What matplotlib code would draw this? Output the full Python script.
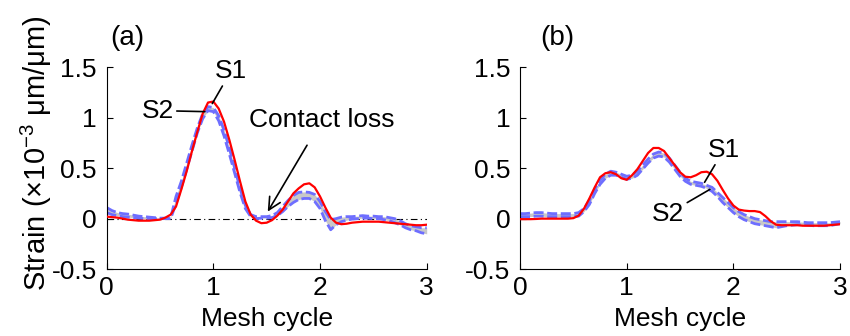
import matplotlib.pyplot as plt
import numpy as np

plt.rcParams['font.family'] = ['Liberation Sans', 'DejaVu Sans']
plt.rcParams['mathtext.fontset'] = 'custom'
plt.rcParams['mathtext.rm'] = 'Liberation Sans'
plt.rcParams['mathtext.it'] = 'Liberation Sans:italic'

# mesh cycle positions (0 to 3, every 0.05)
cycle = np.round(np.arange(0, 3.001, 0.05), 2)

# (a) strain, S1 measured (red) and S2 band (upper / lower)
s1_a = [0.02, 0.015, 0.01, 0.0, -0.01, -0.015, -0.02, -0.02, -0.02, -0.015,
        -0.01, 0.01, 0.04, 0.12, 0.29, 0.47, 0.67, 0.86, 1.04, 1.15,
        1.16, 1.09, 0.96, 0.78, 0.58, 0.37, 0.17, 0.04, -0.02, -0.045,
        -0.04, -0.015, 0.03, 0.09, 0.17, 0.25, 0.30, 0.34, 0.35, 0.31,
        0.22, 0.11, 0.01, -0.04, -0.055, -0.05, -0.04, -0.035, -0.03, -0.03,
        -0.03, -0.03, -0.035, -0.04, -0.045, -0.05, -0.055, -0.06, -0.065, -0.065,
        -0.06]
s2_a_hi = [0.11, 0.08, 0.06, 0.05, 0.045, 0.035, 0.025, 0.02, 0.015, 0.01,
           0.005, 0.005, 0.01, 0.22, 0.37, 0.55, 0.73, 0.90, 1.04, 1.11,
           1.10, 1.02, 0.88, 0.70, 0.50, 0.30, 0.13, 0.04, 0.02, 0.02,
           0.02, 0.03, 0.06, 0.12, 0.18, 0.23, 0.26, 0.265, 0.26, 0.24,
           0.17, 0.07, -0.01, 0.0, 0.015, 0.02, 0.02, 0.025, 0.03, 0.025,
           0.025, 0.02, 0.02, 0.01, 0.0, -0.02, -0.05, -0.07, -0.08, -0.09,
           -0.09]
s2_a_lo = [0.06, 0.04, 0.03, 0.02, 0.015, 0.01, 0.005, 0.0, 0.0, 0.0,
           0.0, 0.0, 0.0, 0.15, 0.31, 0.49, 0.67, 0.85, 0.99, 1.07,
           1.06, 0.97, 0.82, 0.64, 0.45, 0.26, 0.10, 0.02, 0.0, 0.005,
           0.005, 0.01, 0.03, 0.07, 0.12, 0.16, 0.19, 0.20, 0.20, 0.17,
           0.10, -0.02, -0.11, -0.06, -0.03, -0.015, -0.005, 0.0, 0.005, 0.005,
           0.0, 0.0, -0.01, -0.02, -0.04, -0.06, -0.09, -0.11, -0.12, -0.14,
           -0.15]

# (b)
s1_b = [-0.005, -0.005, -0.005, -0.003, 0.0, 0.0, 0.0, 0.0, 0.0, 0.0,
        0.005, 0.03, 0.10, 0.20, 0.31, 0.41, 0.45, 0.46, 0.44, 0.40,
        0.385, 0.43, 0.49, 0.57, 0.65, 0.70, 0.70, 0.67, 0.60, 0.53,
        0.46, 0.415, 0.41, 0.43, 0.46, 0.465, 0.44, 0.375, 0.285, 0.20,
        0.13, 0.09, 0.08, 0.075, 0.075, 0.065, 0.025, -0.025, -0.06, -0.065,
        -0.065, -0.065, -0.065, -0.07, -0.07, -0.07, -0.07, -0.07, -0.065, -0.06,
        -0.055]
s2_b_hi = [0.05, 0.05, 0.055, 0.06, 0.06, 0.055, 0.05, 0.05, 0.05, 0.05,
           0.05, 0.06, 0.10, 0.18, 0.29, 0.38, 0.44, 0.47, 0.46, 0.44,
           0.42, 0.43, 0.47, 0.53, 0.59, 0.64, 0.66, 0.65, 0.60, 0.53,
           0.46, 0.40, 0.37, 0.36, 0.35, 0.33, 0.31, 0.26, 0.21, 0.16,
           0.11, 0.07, 0.04, 0.02, 0.0, -0.01, -0.02, -0.03, -0.03, -0.03,
           -0.03, -0.03, -0.03, -0.035, -0.04, -0.04, -0.04, -0.04, -0.04, -0.035,
           -0.03]
s2_b_lo = [0.02, 0.02, 0.02, 0.025, 0.025, 0.02, 0.02, 0.02, 0.02, 0.02,
           0.02, 0.025, 0.07, 0.14, 0.25, 0.34, 0.40, 0.43, 0.43, 0.41,
           0.39, 0.40, 0.43, 0.49, 0.55, 0.60, 0.62, 0.61, 0.56, 0.49,
           0.42, 0.37, 0.34, 0.33, 0.32, 0.30, 0.27, 0.22, 0.16, 0.11,
           0.06, 0.02, -0.01, -0.03, -0.05, -0.06, -0.07, -0.08, -0.09, -0.08,
           -0.07, -0.065, -0.06, -0.06, -0.065, -0.07, -0.07, -0.07, -0.07, -0.06,
           -0.05]

FS = 19
blue = '#6e6eff'

fig = plt.figure(figsize=(8.5, 3.36), dpi=100)
ax_a = fig.add_axes([0.1255, 0.199, 0.3765, 0.601])
ax_b = fig.add_axes([0.6118, 0.199, 0.3765, 0.601])


def draw_panel(ax, s1, hi, lo):
    ax.fill_between(cycle, lo, hi, color='#c8c8c8', lw=0, zorder=1)
    ax.plot(cycle, hi, color=blue, lw=2, dashes=(3.6, 1.3), zorder=2)
    ax.plot(cycle, lo, color=blue, lw=2, dashes=(3.6, 1.3), zorder=2)
    ax.plot(cycle, s1, color='red', lw=1.6, zorder=3)
    ax.set_xlim(0, 3)
    ax.set_ylim(-0.5, 1.5)
    ax.set_xticks([0, 1, 2, 3])
    ax.set_yticks([-0.5, 0, 0.5, 1, 1.5])
    ax.set_yticklabels(['-0.5', '0', '0.5', '1', '1.5'])
    ax.spines['top'].set_visible(False)
    ax.spines['right'].set_visible(False)
    ax.tick_params(direction='in', length=4, labelsize=FS, pad=7)
    ax.tick_params(axis='x', pad=5)
    ax.set_xlabel('Mesh cycle', fontsize=FS, labelpad=5)


draw_panel(ax_a, s1_a, s2_a_hi, s2_a_lo)
draw_panel(ax_b, s1_b, s2_b_hi, s2_b_lo)

# zero reference in (a)
ax_a.plot([0, 3], [0, 0], color='black', lw=0.8, ls='-.', dashes=(6, 3, 1, 3), zorder=0.5)

ax_a.set_ylabel(r'Strain ($\times$10$^{-3}$ μm/μm)', fontsize=21)
ax_a.yaxis.set_label_coords(-0.165, 0.575)

fig.text(127 / 850, 1 - 38 / 336, '(a)', fontsize=FS + 1, ha='center', va='center')
fig.text(557 / 850, 1 - 38 / 336, '(b)', fontsize=FS + 1, ha='center', va='center')

# labels for the two sensors
lp = dict(arrowstyle='-', color='black', lw=1.2, shrinkA=0, shrinkB=0)
ax_a.annotate('S1', xy=(0.99, 1.14), xytext=(1.165, 1.46), fontsize=FS,
              ha='center', va='center', arrowprops=lp)
ax_a.annotate('S2', xy=(0.92, 1.06), xytext=(0.48, 1.07), fontsize=FS,
              ha='center', va='center', arrowprops=lp)
ax_a.annotate('Contact loss', xy=(1.51, 0.07), xytext=(2.02, 0.98), fontsize=FS,
              ha='center', va='center',
              arrowprops=dict(arrowstyle='->', color='black', lw=1.2,
                              mutation_scale=22, shrinkA=9, shrinkB=0))
ax_b.annotate('S1', xy=(1.73, 0.36), xytext=(1.91, 0.68), fontsize=FS,
              ha='center', va='center', arrowprops=lp)
ax_b.annotate('S2', xy=(1.78, 0.29), xytext=(1.39, 0.05), fontsize=FS,
              ha='center', va='center', arrowprops=lp)

fig.savefig('out.png', dpi=100)
